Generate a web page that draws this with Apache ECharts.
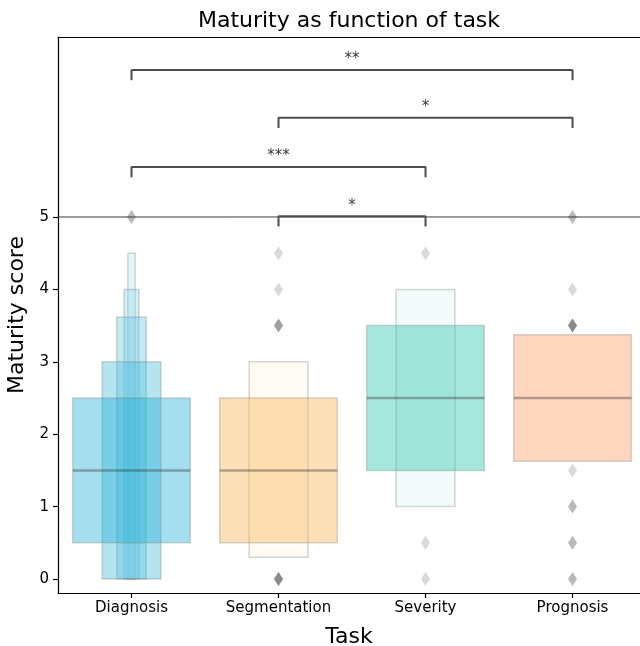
<!DOCTYPE html>
<html><head><meta charset="utf-8">
<script src="https://cdn.jsdelivr.net/npm/echarts@6/dist/echarts.min.js"></script>
<style>html,body{margin:0;padding:0;background:#fff}#c{width:640px;height:646px}</style>
</head><body><div id="c"></div>
<script>
// ---- data ----
const categories = ['Diagnosis', 'Segmentation', 'Severity', 'Prognosis'];
const medians = [1.5, 1.5, 2.5, 2.5];
// letter values, widest (quartile) box first
const lowerValues = [[0.5, 0, 0, 0, 0], [0.5, 0.3], [1.5, 1.0], [1.625]];
const upperValues = [[2.5, 3.0, 3.62, 4.0, 4.5], [2.5, 3.0], [3.5, 4.0], [3.375]];
const outlierValues = [[5], [4.5, 4, 3.5, 0], [4.5, 0.5, 0], [5, 4, 3.5, 1.5, 1, 0.5, 0]];
const outlierCounts = [[2], [1, 1, 3, 4], [1, 1, 1], [2, 1, 4, 1, 2, 2, 2]];
const yTicks = [0, 1, 2, 3, 4, 5];
const bracketFrom = [0, 1, 0, 1];
const bracketTo = [3, 3, 2, 2];
const bracketLevel = [7.03, 6.37, 5.69, 5.01];
const bracketStars = ['**', '*', '***', '*'];

// ---- styles ----
const palette = ['#1eaed4', '#fcb14d', '#21c3a8', '#fc965a'];
const maxLighten = [0.7, 0.85, 0.85, 0.85];
const X_MIN = -0.5, X_MAX = 3.459, Y_MIN = -0.193, Y_MAX = 7.486;
const DROP = 0.14;
const FONT = 'DejaVu Sans';
function hexToRgb(h){ const n = parseInt(h.slice(1), 16); return [(n>>16)&255, (n>>8)&255, n&255]; }
function lighten(h, t){ return hexToRgb(h).map(v => Math.round(v + t * (255 - v))); }

const boxData = [];
categories.forEach((c, ci) => {
  const n = lowerValues[ci].length;
  for (let lvl = n - 1; lvl >= 0; lvl--) {
    boxData.push([ci, lowerValues[ci][lvl], upperValues[ci][lvl], lvl, n]);
  }
});
const medianData = medians.map((m, ci) => [ci, m]);
const outlierData = [];
outlierValues.forEach((vals, ci) => vals.forEach((v, k) => {
  for (let r = 0; r < outlierCounts[ci][k]; r++) outlierData.push([ci, v]);
}));

const bracketSeries = bracketFrom.map((f, i) => ({
  type: 'line', xAxisIndex: 0, yAxisIndex: 0, symbol: 'none', silent: true, z: 5,
  lineStyle: { color: '#4d4d4d', width: 2 },
  data: [[f, bracketLevel[i] - DROP], [f, bracketLevel[i]], [bracketTo[i], bracketLevel[i]], [bracketTo[i], bracketLevel[i] - DROP]]
}));
const starData = bracketFrom.map((f, i) => ({ value: [(f + bracketTo[i]) / 2, bracketLevel[i]], star: bracketStars[i] }));

function renderBox(params, api) {
  const cat = api.value(0), lo = api.value(1), hi = api.value(2), lvl = api.value(3), n = api.value(4);
  const w = 0.8 * Math.pow(0.5, lvl);
  const p1 = api.coord([cat - w / 2, hi]);
  const p2 = api.coord([cat + w / 2, lo]);
  const t = n > 1 ? (lvl / (n - 1)) * maxLighten[cat] : 0;
  const rgb = lighten(palette[cat], t);
  return {
    type: 'rect',
    shape: { x: p1[0], y: p1[1], width: p2[0] - p1[0], height: p2[1] - p1[1] },
    style: { fill: `rgba(${rgb[0]},${rgb[1]},${rgb[2]},0.4)`, stroke: 'rgba(120,120,120,0.3)', lineWidth: 1.5 }
  };
}
function renderMedian(params, api) {
  const cat = api.value(0), m = api.value(1);
  const a = api.coord([cat - 0.4, m]), b = api.coord([cat + 0.4, m]);
  return { type: 'line', shape: { x1: a[0], y1: a[1], x2: b[0], y2: b[1] },
    style: { stroke: 'rgba(38,38,38,0.35)', lineWidth: 2.5 } };
}

const chart = echarts.init(document.getElementById('c'), null, { renderer: 'canvas' });
chart.setOption({
  animation: false,
  backgroundColor: '#fff',
  textStyle: { fontFamily: FONT },
  grid: { left: 58, right: 0, top: 37, bottom: 53, containLabel: false, outerBoundsMode: 'none' },
  graphic: [{
    type: 'text', x: 349, y: 21,
    style: { text: 'Maturity as function of task', font: '22px "DejaVu Sans"', fill: '#000', align: 'center', verticalAlign: 'middle' }
  }],
  xAxis: [{
    type: 'value', min: X_MIN, max: X_MAX, position: 'bottom',
    name: 'Task', nameLocation: 'middle', nameGap: 33,
    nameTextStyle: { fontFamily: FONT, fontSize: 22, color: '#000' },
    axisLine: { show: true, onZero: false, lineStyle: { color: '#000', width: 1.2 } },
    axisTick: { show: true, customValues: [0, 1, 2, 3], length: 5, lineStyle: { color: '#000', width: 1.2 } },
    axisLabel: { customValues: [0, 1, 2, 3], formatter: v => categories[Math.round(v)], fontFamily: FONT, fontSize: 15, color: '#000', margin: 8 },
    splitLine: { show: false }
  }, {
    type: 'value', min: X_MIN, max: X_MAX, position: 'top',
    axisLine: { show: true, onZero: false, lineStyle: { color: '#000', width: 1.2 } },
    axisTick: { show: false }, axisLabel: { show: false }, splitLine: { show: false }
  }],
  yAxis: {
    type: 'value', min: Y_MIN, max: Y_MAX,
    name: 'Maturity score', nameLocation: 'middle', nameGap: 29, nameRotate: 90,
    nameTextStyle: { fontFamily: FONT, fontSize: 22, color: '#000' },
    axisLine: { show: true, onZero: false, lineStyle: { color: '#000', width: 1.2 } },
    axisTick: { show: true, customValues: yTicks, length: 5, lineStyle: { color: '#000', width: 1.2 } },
    axisLabel: { customValues: yTicks, fontFamily: FONT, fontSize: 15, color: '#000', margin: 9 },
    splitLine: { show: false }
  },
  series: [
    { type: 'custom', renderItem: renderBox, data: boxData, encode: { x: 0, y: [1, 2] }, z: 2, clip: false, silent: true },
    { type: 'custom', renderItem: renderMedian, data: medianData, encode: { x: 0, y: 1 }, z: 3, silent: true },
    { type: 'scatter', data: outlierData, symbol: 'diamond', symbolSize: [9, 14], z: 4, silent: true,
      itemStyle: { color: 'rgba(38,38,38,0.22)' } },
    { type: 'line', symbol: 'none', silent: true, z: 5, lineStyle: { color: '#3a3a3a', width: 1 },
      data: [[X_MIN, 5], [X_MAX, 5]] },
    ...bracketSeries,
    { type: 'scatter', data: starData, symbolSize: 0, silent: true, z: 6,
      label: { show: true, position: 'top', distance: 3, formatter: p => p.data.star, fontFamily: FONT, fontSize: 15, color: '#000' } }
  ]
});
</script>
</body></html>
